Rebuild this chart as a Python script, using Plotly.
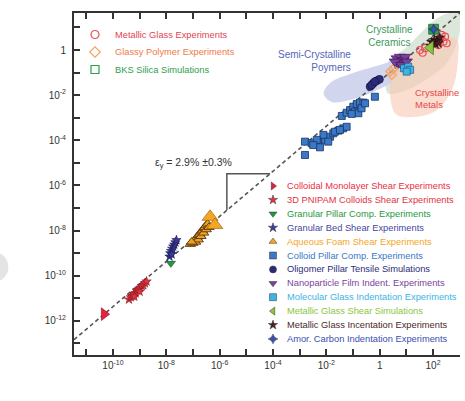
import numpy as np
import plotly.graph_objects as go

# ---------------- data (log10 values) ----------------
fit_log_ratio = -1.37            # dashed fit line, log10(sigma/E) as drawn
fit_logE_span = [-11.46, 3.01]
slope_logE = [-5.73, -4.11]      # slope triangle

monolayer_logE = [-10.33]
monolayer_logS = [-11.70]

pnipam_logE = [-9.40, -9.33, -9.28, -9.22, -9.15, -9.10, -9.05, -8.98, -8.92, -8.86, -8.80, -8.74, -9.20, -9.00]
pnipam_logS = [-11.05, -10.95, -10.90, -10.80, -10.78, -10.65, -10.62, -10.55, -10.45, -10.42, -10.33, -10.25, -10.92, -10.70]

granbed_logE = [-7.88, -7.85, -7.82, -7.78, -7.74, -7.70, -7.66, -7.62, -7.80]
granbed_logS = [-9.15, -9.00, -8.90, -8.80, -8.70, -8.62, -8.52, -8.42, -9.05]

granpillar_logE = [-7.83]
granpillar_logS = [-9.45]

foam_logE = [-7.10, -7.00, -6.95, -6.90, -6.85, -6.80, -6.75, -6.70, -6.65, -6.60, -6.55, -6.50, -6.45,
             -6.90, -6.80, -6.70, -6.60, -6.50, -6.40, -7.05]
foam_logS = [-8.60, -8.55, -8.45, -8.35, -8.30, -8.20, -8.15, -8.05, -8.00, -7.90, -7.85, -7.75, -7.70,
             -8.50, -8.40, -8.25, -8.10, -7.95, -7.85, -8.50]
foam_big_logE = [-6.36, -6.18]
foam_big_logS = [-7.39, -7.75]

cpillar_logE = [-2.80, -2.55, -2.30, -2.24, -2.05, -1.86, -1.74, -1.55, -1.37, -1.24, -2.11, -2.36, -2.49, -1.93,
                -1.68, -1.49, -1.42, -1.24, -1.11, -0.99, -0.86, -0.74, -0.61, -0.93, -0.80, -1.05, -0.68,
                -0.55, -2.80, -0.18]
cpillar_logS = [-4.06, -4.13, -4.06, -4.31, -3.98, -3.84, -3.69, -3.57, -3.47, -3.40, -3.76, -3.98, -4.21, -4.06,
                -3.62, -3.54, -2.92, -2.78, -2.66, -2.51, -2.39, -2.33, -2.33, -2.73, -2.80, -2.83, -2.58,
                -2.36, -4.65, -2.07]

oligomer_logE = [-0.36, -0.24, -0.11, -0.01, -0.30, -0.18]
oligomer_logS = [-1.62, -1.47, -1.36, -1.30, -1.55, -1.40]

nano_logE = [0.64, 0.76, 0.89, 0.70, 0.57, 0.95, 0.82, 1.01]
nano_logS = [-0.37, -0.30, -0.44, -0.59, -0.51, -0.30, -0.66, -0.51]

molglass_logE = [0.91, 1.07, 1.14, 1.01]
molglass_logS = [-0.81, -0.74, -0.88, -0.96]

polymer_logE = [0.40, 0.50, 0.45]
polymer_logS = [-0.95, -0.85, -1.10]

mgexp_logE = [2.26, 2.39, 2.45, 2.20, 2.51, 2.32, 1.51, 1.70, 1.61]
mgexp_logS = [0.52, 0.37, 0.59, 0.22, 0.30, 0.67, 0.00, 0.08, -0.12]

mgind_logE = [1.95, 2.05, 2.15, 2.25, 2.10, 1.90, 2.20]
mgind_logS = [0.35, 0.45, 0.40, 0.55, 0.25, 0.20, 0.30]

mgsim_logE = [1.90]
mgsim_logS = [0.10]

bks_logE = [2.02]
bks_logS = [0.92]

carbon_logE = [2.02]
carbon_logS = [0.92]

# shaded material regions (log10 outlines)
semi_logE = [-2.10, -1.85, -1.00, 0.01, 0.61, 0.76, 0.50, -0.25, -1.00, -1.80]
semi_logS = [-1.95, -1.45, -1.02, -0.66, -0.50, -0.82, -1.36, -1.86, -2.18, -2.30]
ceram_logE = [0.27, 0.31, 1.02, 1.77, 2.37, 3.01, 3.05, 2.90, 2.52, 1.89, 1.02, 0.39]
ceram_logS = [-1.86, -0.57, 0.13, 1.02, 1.55, 1.64, 1.33, 0.31, -0.57, -1.19, -1.77, -1.95]
metal_logE = [0.46, 0.57, 1.25, 2.15, 2.75, 2.94, 2.90, 2.26, 1.51, 0.76]
metal_logS = [-0.75, -2.79, -2.97, -2.66, -1.64, -0.31, 0.44, 0.58, 0.00, -0.44]

x_tick_exp = list(range(-11, 4))
y_tick_exp = list(range(-13, 2))


def p10(a):
    return 10 ** np.asarray(a, dtype=float)


def sup(e):
    return "1" if e == 0 else f"10<sup>{e}</sup>"


fig = go.Figure()


def region(lx, ly, color):
    fig.add_trace(go.Scatter(x=p10(lx + lx[:1]), y=p10(ly + ly[:1]), mode="lines",
                             line=dict(width=0, shape="spline", smoothing=1.0), fill="toself",
                             fillcolor=color, hoverinfo="skip", showlegend=False))


region(ceram_logE, ceram_logS, "rgba(214,226,211,0.85)")
region(semi_logE, semi_logS, "rgba(204,210,236,0.9)")
region(metal_logE, metal_logS, "rgba(249,200,180,0.6)")

# fit line and slope triangle
fe = p10(fit_logE_span)
fig.add_trace(go.Scatter(x=fe, y=fe * 10 ** fit_log_ratio, mode="lines",
                         line=dict(color="#555555", width=1.6, dash="4px,3px"), hoverinfo="skip", showlegend=False))
se = p10(slope_logE)
fig.add_trace(go.Scatter(x=[se[0], se[0], se[1]],
                         y=[se[0] * 10 ** fit_log_ratio, se[1] * 10 ** fit_log_ratio, se[1] * 10 ** fit_log_ratio],
                         mode="lines", line=dict(color="#555555", width=1.5), hoverinfo="skip", showlegend=False))


def pts(lx, ly, symbol, color, size, edge="#222222", ew=0.6, open_=False):
    m = dict(symbol=symbol, size=size, color=color, line=dict(color=edge, width=ew))
    if open_:
        m = dict(symbol=symbol + "-open", size=size, color=color, line=dict(color=color, width=1.2))
    fig.add_trace(go.Scatter(x=p10(lx), y=p10(ly), mode="markers", marker=m, hoverinfo="skip", showlegend=False))


pts(monolayer_logE, monolayer_logS, "triangle-right", "#e8203c", 11, "#8a1020")
pts(pnipam_logE, pnipam_logS, "star", "#e23340", 7, "#8a1a20")
pts(granbed_logE, granbed_logS, "star", "#3b3b9b", 7, "#1a1a50")
pts(granpillar_logE, granpillar_logS, "triangle-down", "#1f9a3e", 8, "#0f4a1e")
pts(foam_logE, foam_logS, "triangle-up", "#f0a020", 9, "#5a3a10", 0.9)
pts(foam_big_logE, foam_big_logS, "triangle-up", "#f5a623", 14, "#8a5a10", 0.6)
pts(cpillar_logE, cpillar_logS, "square", "#3a78c8", 7, "#1a3560", 0.8)
pts(oligomer_logE, oligomer_logS, "circle", "#2b2b7a", 8, "#141440")
pts(polymer_logE, polymer_logS, "diamond", "#f4a460", 7, open_=True)
pts(nano_logE, nano_logS, "triangle-down", "#7b3fa0", 10, "#2a1040")
pts(molglass_logE, molglass_logS, "square", "#3cb4e6", 7, "#1a4a70")
pts(mgexp_logE, mgexp_logS, "circle", "#e84f58", 7, open_=True)
pts(mgind_logE, mgind_logS, "star", "#4a1f1f", 7, "#200a0a")
pts(mgsim_logE, mgsim_logS, "triangle-left", "#8cc63f", 12, "#3a5a10")
pts(bks_logE, bks_logS, "square", "#2e9e4e", 10, "#1a5a2a")
pts(carbon_logE, carbon_logS, "star-diamond", "#3a4fb0", 7, "#1a2060")

# ---------------- legends (drawn on an overlay axis in plot pixels) ----------------
legend1 = [
    ("Metallic Glass Experiments", "circle-open", "#e8505a", "#e04550"),
    ("Glassy Polymer Experiments", "diamond-open", "#f4a460", "#ee7a48"),
    ("BKS Silica Simulations", "square-open", "#2e9e4e", "#2e9e4e"),
]
legend2 = [
    ("Colloidal Monolayer Shear Experiments", "triangle-right", "#e8203c", "#ea2e45"),
    ("3D PNIPAM Colloids Shear Experiments", "star", "#e23340", "#e23340"),
    ("Granular Pillar Comp. Experiments", "triangle-down", "#1f9a3e", "#1f9a3e"),
    ("Granular Bed Shear Experiments", "star", "#3b3b9b", "#4646a0"),
    ("Aqueous Foam Shear Experiments", "triangle-up", "#f5a623", "#f5a623"),
    ("Colloid Pillar Comp. Experiments", "square", "#3a78c8", "#3a78c8"),
    ("Oligomer Pillar Tensile Simulations", "circle", "#2b2b7a", "#2b2b7a"),
    ("Nanoparticle Film Indent. Experiments", "triangle-down", "#7b3fa0", "#7b3fa0"),
    ("Molecular Glass Indentation Experiments", "square", "#3cb4e6", "#3cb4e6"),
    ("Metallic Glass Shear Simulations", "triangle-left", "#8cc63f", "#8cc63f"),
    ("Metallic Glass Incentation Experiments", "star", "#4a1f1f", "#4a1f1f"),
    ("Amor. Carbon Indentation Experiments", "star-diamond", "#3a4fb0", "#3a4fb0"),
]

annotations = []


def draw_legend(items, mx, tx, y0, dy, fsize, msize):
    ys = [y0 + i * dy for i in range(len(items))]
    for (name, sym, mcol, tcol), yy in zip(items, ys):
        if sym.endswith("-open"):
            mk = dict(symbol=sym, size=msize, color=mcol, line=dict(color=mcol, width=1.2))
        else:
            mk = dict(symbol=sym, size=msize, color=mcol, line=dict(color="#333333", width=0.5))
        fig.add_trace(go.Scatter(x=[mx], y=[yy], xaxis="x2", yaxis="y2", mode="markers", marker=mk,
                                 hoverinfo="skip", showlegend=False))
        annotations.append(dict(x=tx, y=yy, xref="x2", yref="y2", text=name, showarrow=False,
                                xanchor="left", yanchor="middle",
                                font=dict(size=fsize, color=tcol, family="Arial, Liberation Sans")))


draw_legend(legend1, 95, 113, 34.5, 17.5, 9.3, 8)
draw_legend(legend2, 273, 285, 186, 13.9, 9.3, 7)

txt = "#333333"
annotations += [
    dict(x=193, y=163, xref="x2", yref="y2", text="ε<sub>y</sub> = 2.9% ±0.3%", showarrow=False,
         font=dict(size=10.5, color=txt, family="Arial, Liberation Sans")),
    dict(x=389, y=35.5, xref="x2", yref="y2", text="Crystalline<br>Ceramics", showarrow=False, align="center",
         font=dict(size=10, color="#3a9a5a", family="Arial, Liberation Sans")),
    dict(x=353, y=61, xref="x2", yref="y2", text="Semi-Crystalline<br>Poymers", showarrow=False, align="right",
         xanchor="right", font=dict(size=10, color="#5566bb", family="Arial, Liberation Sans")),
    dict(x=413, y=98.5, xref="x2", yref="y2", text="Crystalline<br>Metals", showarrow=False, align="left",
         xanchor="left", font=dict(size=9.5, color="#e84848", family="Arial, Liberation Sans")),
    dict(x=27, y=190, xref="x2", yref="y2", text="Yield Stress, σ<sub>y</sub>  (GPa)", showarrow=False,
         textangle=-90, font=dict(size=10.5, color=txt, family="Arial, Liberation Sans")),
    dict(x=268, y=395, xref="x2", yref="y2", text="Young's Modulus,  E  (GPa)", showarrow=False,
         font=dict(size=10.5, color=txt, family="Arial, Liberation Sans")),
]

fig.update_layout(
    width=465, height=401,
    margin=dict(l=74, r=5, t=13, b=46),
    paper_bgcolor="white", plot_bgcolor="white",
    showlegend=False,
    annotations=annotations,
    font=dict(family="Arial, Liberation Sans", size=10, color=txt),
    xaxis=dict(type="log", range=[-11.46, 3.01], tickvals=p10(x_tick_exp),
               ticktext=[sup(e) if e % 2 == 0 else "" for e in x_tick_exp],
               ticks="inside", ticklen=6, tickwidth=1.5, tickcolor="#333333",
               showline=True, linecolor="#333333", linewidth=2, mirror="ticks",
               showgrid=False, zeroline=False, tickfont=dict(size=10, color=txt)),
    yaxis=dict(type="log", range=[-13.51, 1.64], tickvals=p10(y_tick_exp),
               ticktext=[sup(e) if e % 2 == 0 else "" for e in y_tick_exp],
               ticks="inside", ticklen=6, tickwidth=1.5, tickcolor="#333333",
               showline=True, linecolor="#333333", linewidth=2, mirror=False,
               showgrid=False, zeroline=False, tickfont=dict(size=10, color=txt), ticklabelstandoff=4),
    xaxis2=dict(overlaying="x", anchor="y2", range=[74, 460], visible=False, fixedrange=True),
    yaxis2=dict(overlaying="y", anchor="x2", range=[355, 13], visible=False, fixedrange=True),
    shapes=[dict(type="circle", xref="paper", yref="paper", x0=-0.24, x1=-0.17, y0=0.215, y1=0.30,
                 fillcolor="#e4e4e4", line=dict(width=0), layer="below")],
)

fig.write_html("out.html", config={"displayModeBar": False},
               post_script="document.body.style.margin='0';document.body.style.padding='0';")
